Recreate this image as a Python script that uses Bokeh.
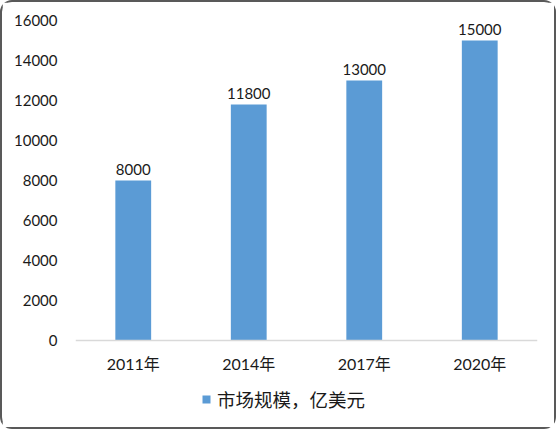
from bokeh.plotting import figure
from bokeh.models import ColumnDataSource, FactorRange, Range1d, Legend, LegendItem, FixedTicker
from bokeh.core.properties import value
from bokeh.embed import file_html
from bokeh.resources import INLINE

# data
years = ["2011年", "2014年", "2017年", "2020年"]
market = [8000, 11800, 13000, 15000]
series_name = "市场规模，亿美元"
y_ticks = [0, 2000, 4000, 6000, 8000, 10000, 12000, 14000, 16000]

FONT = "Lato, 'Noto Sans CJK SC', sans-serif"
CJK = "'Noto Sans CJK SC', sans-serif"
TXT = "#1a1a1a"

src = ColumnDataSource(dict(x=years, y=market, lbl=[str(v) for v in market]))

# frame extends below the zero line to hold the category labels and legend
p = figure(
    x_range=FactorRange(*years, range_padding=0),
    y_range=Range1d(-4100, 16000),
    width=556, height=429,
    output_backend="svg", toolbar_location=None,
    min_border_left=73, min_border_right=21, min_border_top=18, min_border_bottom=9,
)
p.styles = {"border": "2px solid #595959", "border-radius": "12px"}
p.outline_line_color = None
p.background_fill_color = "white"
p.border_fill_color = "white"
p.xgrid.grid_line_color = None
p.ygrid.grid_line_color = None

bars = p.vbar(x="x", top="y", bottom=0, width=0.31, source=src, fill_color="#5b9bd5", line_color=None)
p.text(x="x", y="y", text="lbl", source=src, text_align="center", text_baseline="bottom",
       y_offset=-6, text_font=value(FONT), text_font_size="15px", text_color=TXT)

p.yaxis.ticker = FixedTicker(ticks=y_ticks)
p.yaxis.axis_line_color = None
p.yaxis.major_tick_line_color = None
p.yaxis.minor_tick_line_color = None
p.yaxis.major_tick_in = 0
p.yaxis.major_tick_out = 0
p.yaxis.major_label_standoff = 18
p.yaxis.major_label_text_font = FONT
p.yaxis.major_label_text_font_size = "15px"
p.yaxis.major_label_text_color = TXT

p.xaxis.fixed_location = 0
p.xaxis.axis_line_color = "#d9d9d9"
p.xaxis.axis_line_width = 1.5
p.xaxis.major_tick_line_color = None
p.xaxis.minor_tick_line_color = None
p.xaxis.major_tick_in = 0
p.xaxis.major_tick_out = 0
p.xaxis.major_label_standoff = 13
p.xaxis.major_label_text_font = FONT
p.xaxis.major_label_text_font_size = "16px"
p.xaxis.major_label_text_color = TXT

legend = Legend(items=[LegendItem(label=series_name, renderers=[bars])],
                location=(126, 10), orientation="horizontal",
                glyph_width=10, glyph_height=10, label_standoff=6,
                label_text_font=CJK, label_text_font_size="18.5px", label_text_color=TXT,
                label_height=20, padding=0, margin=0, border_line_color=None,
                background_fill_alpha=0)
p.add_layout(legend, "center")

open("out.html", "w").write(file_html(p, INLINE))
